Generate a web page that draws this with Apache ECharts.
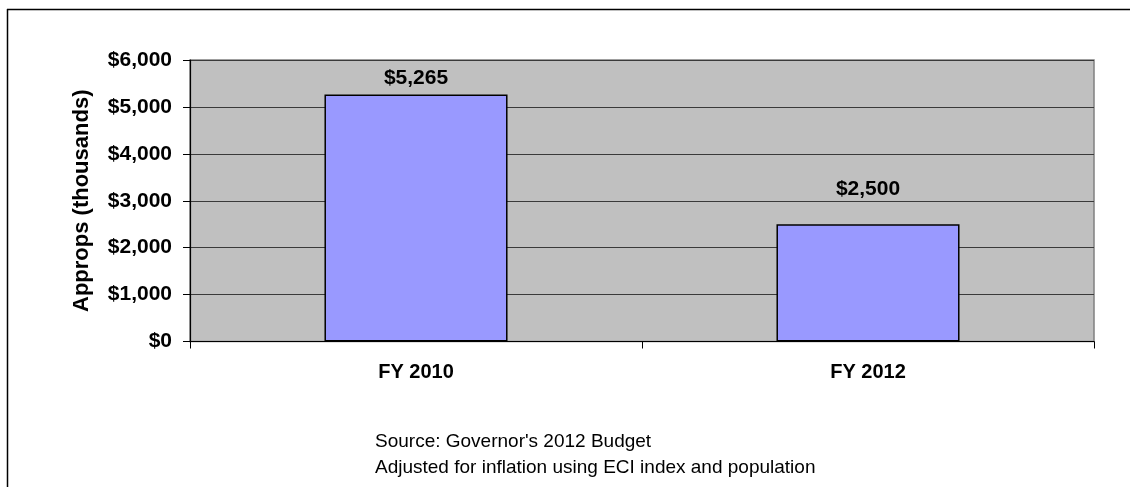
<!DOCTYPE html>
<html>
<head>
<meta charset="utf-8">
<script src="https://cdn.jsdelivr.net/npm/echarts@6/dist/echarts.min.js"></script>
<style>
  html, body { margin: 0; padding: 0; background: #ffffff; }
  #chart { width: 1130px; height: 487px; }
</style>
</head>
<body>
<div id="chart"></div>
<script>
// Appropriations by fiscal year (thousands of dollars)
const categories = ['FY 2010', 'FY 2012'];
const approps = [5265, 2500];
const yTicks = [0, 1000, 2000, 3000, 4000, 5000, 6000];
const labelGaps = [6, 25];
const notes = ["Source: Governor's 2012 Budget", 'Adjusted for inflation using ECI index and population'];

const FONT = '"Liberation Sans", Arial, sans-serif';

function money(v) {
  return '$' + Number(v).toLocaleString('en-US');
}

const chart = echarts.init(document.getElementById('chart'), null, { renderer: 'canvas' });

chart.setOption({
  backgroundColor: '#ffffff',
  animation: false,
  grid: {
    left: 190,
    right: 36,
    top: 60,
    bottom: 145.5,
    show: true,
    backgroundColor: '#c0c0c0',
    borderColor: '#808080',
    borderWidth: 1.5
  },
  xAxis: {
    type: 'category',
    data: categories,
    axisLine: { show: true, lineStyle: { color: '#000000', width: 1.2 } },
    axisTick: { show: true, alignWithLabel: false, length: 7, lineStyle: { color: '#000000', width: 1 } },
    axisLabel: {
      margin: 21,
      color: '#000000',
      fontFamily: FONT,
      fontWeight: 'bold',
      fontSize: 20
    }
  },
  yAxis: {
    type: 'value',
    min: yTicks[0],
    max: yTicks[yTicks.length - 1],
    interval: yTicks[1] - yTicks[0],
    name: 'Approps (thousands)',
    nameLocation: 'middle',
    nameGap: 97,
    nameTextStyle: {
      color: '#000000',
      fontFamily: FONT,
      fontWeight: 'bold',
      fontSize: 22
    },
    axisLine: { show: true, lineStyle: { color: '#000000', width: 1.2 } },
    axisTick: { show: true, length: 7, lineStyle: { color: '#000000', width: 1 } },
    axisLabel: {
      margin: 18,
      color: '#000000',
      fontFamily: FONT,
      fontWeight: 'bold',
      fontSize: 21,
      formatter: money
    },
    splitLine: { show: true, lineStyle: { color: '#3a3a3a', width: 1.2 } }
  },
  series: [{
    type: 'bar',
    data: approps.map((v, i) => ({
      value: v,
      label: { distance: labelGaps[i] }
    })),
    barWidth: '40.5%',
    itemStyle: {
      color: '#9999ff',
      borderColor: '#000000',
      borderWidth: 1.5
    },
    label: {
      show: true,
      position: 'top',
      color: '#000000',
      fontFamily: FONT,
      fontWeight: 'bold',
      fontSize: 21,
      formatter: (p) => money(p.value)
    }
  }],
  graphic: [
    {
      type: 'line',
      shape: { x1: 7, y1: 9.5, x2: 1130, y2: 9.5 },
      style: { stroke: '#000000', lineWidth: 1.5 }
    },
    {
      type: 'line',
      shape: { x1: 7.5, y1: 9, x2: 7.5, y2: 487 },
      style: { stroke: '#000000', lineWidth: 1.5 }
    },
    {
      type: 'text',
      left: 375,
      top: 432,
      style: {
        text: notes[0],
        fill: '#000000',
        font: '19px ' + FONT
      }
    },
    {
      type: 'text',
      left: 375,
      top: 458,
      style: {
        text: notes[1],
        fill: '#000000',
        font: '19px ' + FONT
      }
    }
  ]
});
</script>
</body>
</html>
